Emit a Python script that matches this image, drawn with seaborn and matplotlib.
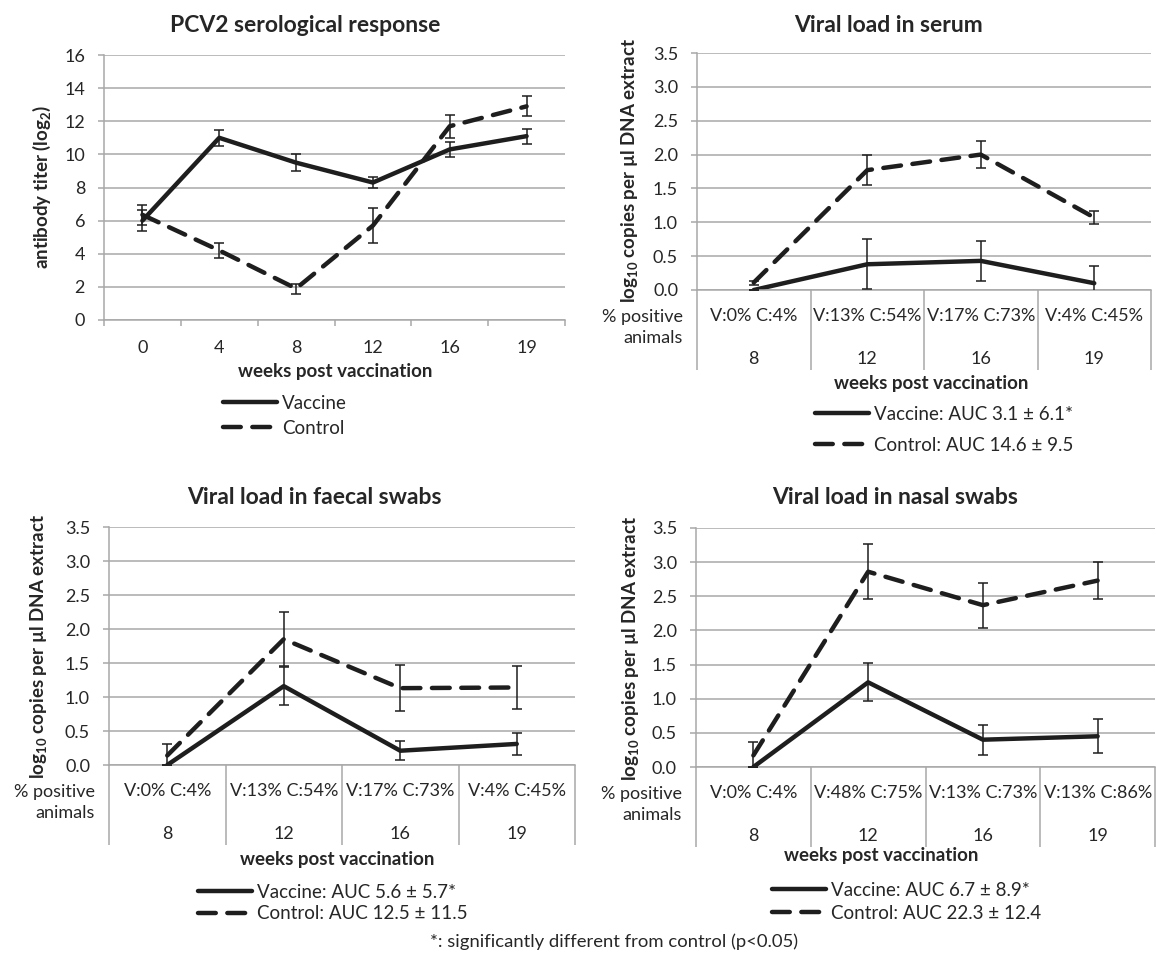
#!/usr/bin/env python3
"""
Four-panel figure: PCV2 serology and viral load (serum, faecal, nasal swabs)
for vaccinated vs control pigs. Saves out.png (1156x956 px).
"""
import matplotlib as mpl
import matplotlib.pyplot as plt
import pandas as pd
import seaborn as sns

# ---- data -----------------------------------------------------------------
sero_weeks = ["0", "4", "8", "12", "16", "19"]
sero_vac = [6.0, 11.0, 9.5, 8.3, 10.3, 11.1]
sero_vac_err = [0.65, 0.5, 0.5, 0.35, 0.45, 0.45]
sero_ctl = [6.35, 4.2, 1.9, 5.7, 11.7, 12.9]
sero_ctl_err = [0.6, 0.45, 0.3, 1.05, 0.7, 0.6]

viral_weeks = ["8", "12", "16", "19"]

serum_vac = [0.0, 0.38, 0.43, 0.10]
serum_vac_err = [0.0, 0.37, 0.29, 0.26]
serum_ctl = [0.11, 1.77, 2.00, 1.07]
serum_ctl_err = [0.03, 0.22, 0.20, 0.10]
serum_pos = ["V:0% C:4%", "V:13% C:54%", "V:17% C:73%", "V:4% C:45%"]
serum_legend = ["Vaccine: AUC 3.1 ± 6.1*", "Control: AUC 14.6 ± 9.5"]

faecal_vac = [0.0, 1.16, 0.21, 0.31]
faecal_vac_err = [0.0, 0.28, 0.14, 0.16]
faecal_ctl = [0.14, 1.85, 1.13, 1.14]
faecal_ctl_err = [0.17, 0.40, 0.34, 0.31]
faecal_pos = ["V:0% C:4%", "V:13% C:54%", "V:17% C:73%", "V:4% C:45%"]
faecal_legend = ["Vaccine: AUC 5.6 ± 5.7*", "Control: AUC 12.5 ± 11.5"]

nasal_vac = [0.0, 1.24, 0.40, 0.45]
nasal_vac_err = [0.0, 0.28, 0.22, 0.25]
nasal_ctl = [0.17, 2.86, 2.37, 2.73]
nasal_ctl_err = [0.19, 0.40, 0.33, 0.27]
nasal_pos = ["V:0% C:4%", "V:48% C:75%", "V:13% C:73%", "V:13% C:86%"]
nasal_legend = ["Vaccine: AUC 6.7 ± 8.9*", "Control: AUC 22.3 ± 12.4"]

# ---- style ----------------------------------------------------------------
W, H = 1156, 956
DPI = 100
LINE = "#1e1e1e"
GRID = "#a8a8a8"
TEXT = "#262626"
PT = 72 / DPI  # points per pixel

TICK_FS = 13
LABEL_FS = 13.5
TITLE_FS = 16.5
LEG_FS = 13.5

sns.set_theme(style="white")
mpl.rcParams.update(
    {
        "font.family": ["Lato", "DejaVu Sans"],
        "mathtext.fontset": "custom",
        "mathtext.rm": "Lato",
        "mathtext.bf": "Lato:bold",
        "text.color": TEXT,
        "xtick.color": TEXT,
        "ytick.color": TEXT,
        "font.size": 12,
    }
)


def fx(x):
    return x / W


def fy(y):
    return 1 - y / H


def make_axes(fig, left, right, top, bottom):
    return fig.add_axes([fx(left), fy(bottom), (right - left) / W, (bottom - top) / H])


def draw_series(ax, vac, vac_err, ctl, ctl_err):
    n = len(vac)
    df = pd.DataFrame(
        {
            "pos": list(range(n)) * 2,
            "value": vac + ctl,
            "group": ["Vaccine"] * n + ["Control"] * n,
        }
    )
    sns.lineplot(
        data=df, x="pos", y="value", hue="group", style="group",
        palette={"Vaccine": LINE, "Control": LINE},
        dashes={"Vaccine": "", "Control": (4.0, 2.6)},
        linewidth=3.2, legend=False, sort=False, errorbar=None, ax=ax,
    )
    handles = list(ax.get_lines()[:2])
    for h in handles:
        h.set_solid_capstyle("round")
        h.set_dash_capstyle("round")
    for vals, errs in ((vac, vac_err), (ctl, ctl_err)):
        ax.errorbar(range(n), vals, yerr=errs, fmt="none", ecolor=LINE,
                    elinewidth=1.1, capsize=3.8, capthick=1.1, zorder=3)
    ax.set_xlim(-0.5, n - 0.5)
    ax.set_xlabel("")
    ax.set_ylabel("")
    return handles


def base_format(ax, ymax, ystep, fmt):
    ax.set_ylim(0, ymax)
    ticks = [i * ystep for i in range(int(round(ymax / ystep)) + 1)]
    ax.set_yticks(ticks)
    ax.set_yticklabels([fmt.format(t) for t in ticks], fontsize=TICK_FS)
    ax.yaxis.grid(True, color=GRID, linewidth=1.1)
    ax.xaxis.grid(False)
    for s in ("top", "right"):
        ax.spines[s].set_visible(False)
    for s in ("left", "bottom"):
        ax.spines[s].set_color(GRID)
        ax.spines[s].set_linewidth(1.1)
    ax.tick_params(axis="y", which="major", left=True, length=6 * PT, width=1.1,
                   color=GRID, pad=13 * PT)
    ax.set_axisbelow(True)


def table_axis(ax, pos_labels, weeks):
    n = len(weeks)
    ax.set_xticks(range(n))
    ax.set_xticklabels([f"{p}\n\n{w}" for p, w in zip(pos_labels, weeks)],
                       fontsize=TICK_FS, linespacing=1.43)
    ax.set_xticks([i - 0.5 for i in range(n + 1)], minor=True)
    ax.tick_params(axis="x", which="major", length=0, pad=18 * PT)
    ax.tick_params(axis="x", which="minor", bottom=True, length=80 * PT,
                   width=1.1, color=GRID, direction="out")
    ax.annotate("% positive\nanimals", xy=(0, 0), xycoords="axes fraction",
                xytext=(-14, -19), textcoords="offset pixels",
                ha="right", va="top", fontsize=TICK_FS, linespacing=1.4)


def legend(fig, handles, labels, x, y, spacing):
    fig.legend(handles, labels, loc="upper left",
               bbox_to_anchor=(fx(x), fy(y)), frameon=False, fontsize=LEG_FS,
               handlelength=2.9, handletextpad=0.25, labelspacing=spacing,
               borderpad=0, borderaxespad=0)


fig = plt.figure(figsize=(W / DPI, H / DPI), dpi=DPI)
fig.patch.set_facecolor("white")

YLAB_VIRAL = r"log$_\mathbf{10}$ copies per µl DNA extract"


def header(x_title, y_title, title, x_ylab, y_ylab, ylab, x_wk, y_wk):
    fig.text(fx(x_title), fy(y_title), title, ha="center", va="center",
             fontsize=TITLE_FS, fontweight="bold")
    fig.text(fx(x_ylab), fy(y_ylab), ylab, rotation=90, ha="center",
             va="center", fontsize=LABEL_FS, fontweight="bold")
    fig.text(fx(x_wk), fy(y_wk), "weeks post vaccination", ha="center",
             va="center", fontsize=LABEL_FS, fontweight="bold")


# ---- panel 1: serology ----------------------------------------------------
ax1 = make_axes(fig, 104, 565, 55, 320)
h1 = draw_series(ax1, sero_vac, sero_vac_err, sero_ctl, sero_ctl_err)
base_format(ax1, 16, 2, "{:.0f}")
ax1.set_xticks(range(len(sero_weeks)))
ax1.set_xticklabels(sero_weeks, fontsize=TICK_FS)
ax1.set_xticks([i - 0.5 for i in range(len(sero_weeks) + 1)], minor=True)
ax1.tick_params(axis="x", which="major", length=0, pad=20 * PT)
ax1.tick_params(axis="x", which="minor", bottom=True, length=6 * PT,
                width=1.1, color=GRID, direction="out")
header(305, 26, "PCV2 serological response",
       42, 187, r"antibody titer (log$_\mathbf{2}$)", 335, 371)
legend(fig, h1, ["Vaccine", "Control"], 223, 395, 0.42)

# ---- panel 2: serum --------------------------------------------------------
ax2 = make_axes(fig, 697, 1151, 53, 290)
h2 = draw_series(ax2, serum_vac, serum_vac_err, serum_ctl, serum_ctl_err)
base_format(ax2, 3.5, 0.5, "{:.1f}")
table_axis(ax2, serum_pos, viral_weeks)
header(889, 26, "Viral load in serum", 630, 170, YLAB_VIRAL, 931, 384)
legend(fig, h2, serum_legend, 815, 406, 0.74)

# ---- panel 3: faecal swabs -------------------------------------------------
ax3 = make_axes(fig, 109, 575, 527, 765)
h3 = draw_series(ax3, faecal_vac, faecal_vac_err, faecal_ctl, faecal_ctl_err)
base_format(ax3, 3.5, 0.5, "{:.1f}")
table_axis(ax3, faecal_pos, viral_weeks)
header(314, 497, "Viral load in faecal swabs", 39, 646, YLAB_VIRAL, 337, 859)
legend(fig, h3, faecal_legend, 198, 884, 0.22)

# ---- panel 4: nasal swabs --------------------------------------------------
ax4 = make_axes(fig, 696, 1155, 528, 767)
h4 = draw_series(ax4, nasal_vac, nasal_vac_err, nasal_ctl, nasal_ctl_err)
base_format(ax4, 3.5, 0.5, "{:.1f}")
table_axis(ax4, nasal_pos, viral_weeks)
header(895, 497, "Viral load in nasal swabs", 631, 648, YLAB_VIRAL, 881, 856)
legend(fig, h4, nasal_legend, 772, 882, 0.32)

# ---- footnote --------------------------------------------------------------
fig.text(fx(614), fy(942), "*: significantly different from control (p<0.05)",
         ha="center", va="center", fontsize=13.3)

fig.savefig("out.png", dpi=DPI, facecolor="white")
